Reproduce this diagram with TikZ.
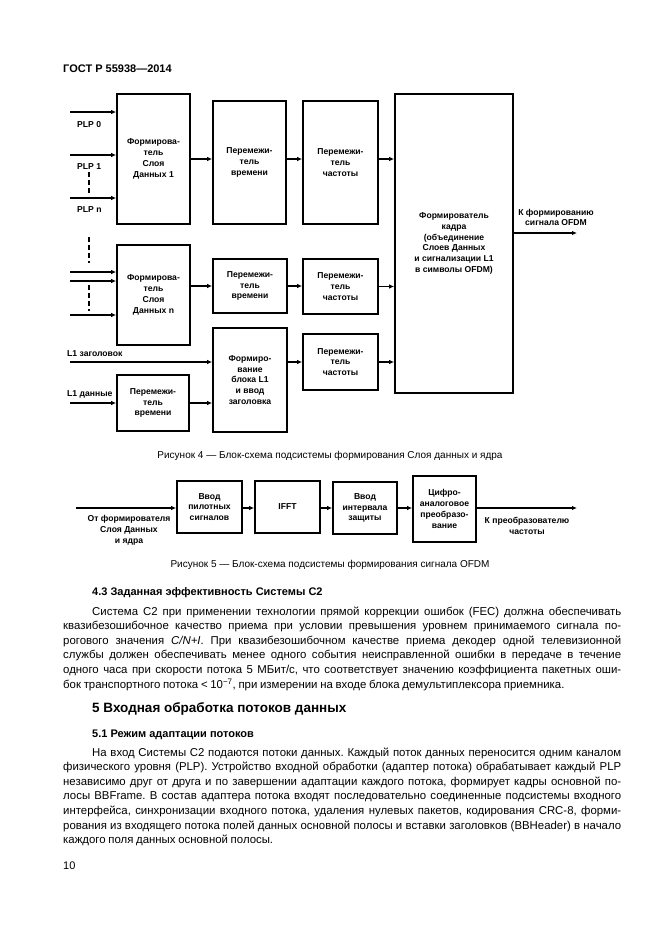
\documentclass[tikz,border=0pt]{standalone}
\usepackage{fontspec}
\setmainfont{Liberation Sans}
\usetikzlibrary{arrows.meta}

\newcommand{\blokfont}{\fontsize{8.6}{10.8}\selectfont\bfseries}
\newcommand{\abzfont}{\fontsize{11.4}{14.6}\selectfont\frenchspacing\spaceskip=2.7pt plus 4pt minus 1.2pt}
\newcommand{\stroka}[1]{\hbox to 558pt{#1}}
\newcommand{\konec}[1]{\hbox to 558pt{#1\hfil}}

\begin{document}
\begin{tikzpicture}[x=1pt,y=-1pt,
  blok/.style={draw,line width=1.7pt,align=center,font=\blokfont,inner sep=0pt},
  sig/.style={draw,line width=1.7pt,-{Latex[length=5pt,width=4.5pt]}},
  vline/.style={draw,line width=1.5pt,dash pattern=on 5pt off 3pt},
  lbl/.style={font=\blokfont,inner sep=0pt,align=center},
  txt/.style={anchor=base west,inner sep=0pt}]

  \fill[white] (0,0) rectangle (661,935);
  \useasboundingbox (0,0) rectangle (661,935);

  \node[txt,font=\fontsize{11}{13}\selectfont\bfseries] (gost) at (63,72) {ГОСТ Р 55938—2014};

  \node[blok,minimum width=73pt,minimum height=130pt] (fsa) at (153.5,159) {Формирова-\\тель\\Слоя\\Данных 1};
  \node[blok,minimum width=73pt,minimum height=123pt] (pva) at (249.5,162.5) {Перемежи-\\тель\\времени};
  \node[blok,minimum width=75pt,minimum height=123pt] (pca) at (340.5,162.5) {Перемежи-\\тель\\частоты};
  \node[blok,minimum width=118pt,minimum height=299pt] (fk) at (454,243.5) {Формирователь\\кадра\\(объединение\\Слоев Данных\\и сигнализации L1\\в символы OFDM)};

  \node[blok,minimum width=73pt,minimum height=100pt] (fsn) at (153.5,295) {Формирова-\\тель\\Слоя\\Данных n};
  \node[blok,minimum width=74pt,minimum height=54pt] (pvn) at (250,286) {Перемежи-\\тель\\времени};
  \node[blok,minimum width=75pt,minimum height=55pt] (pcn) at (340.5,286.5) {Перемежи-\\тель\\частоты};

  \node[blok,minimum width=74pt,minimum height=104pt] (fl1) at (250,380) {Формиро-\\вание\\блока L1\\и ввод\\заголовка};
  \node[blok,minimum width=75pt,minimum height=56pt] (pcl) at (340.5,362) {Перемежи-\\тель\\частоты};
  \node[blok,minimum width=72pt,minimum height=56pt] (pvl) at (153,403) {Перемежи-\\тель\\времени};

  \coordinate (plp0) at (70,112);
  \coordinate (plp1) at (70,155);
  \coordinate (plpn) at (70,198);
  \path[sig] (plp0) -- (plp0 -| fsa.west);
  \path[sig] (plp1) -- (plp1 -| fsa.west);
  \path[sig] (plpn) -- (plpn -| fsa.west);
  \node[lbl,anchor=base west] (lplp0) at (77,127) {PLP 0};
  \node[lbl,anchor=base west] (lplp1) at (77,169) {PLP 1};
  \node[lbl,anchor=base west] (lplpn) at (77,212) {PLP n};
  \path[vline] (89,172) -- (89,195);

  \coordinate (vna) at (70,272);
  \coordinate (vnb) at (70,281);
  \coordinate (vnc) at (70,315);
  \path[sig] (vna) -- (vna -| fsn.west);
  \path[sig] (vnb) -- (vnb -| fsn.west);
  \path[sig] (vnc) -- (vnc -| fsn.west);
  \path[vline] (89,237) -- (89,263);
  \path[vline] (89,285) -- (89,311);

  \path[sig] (fsa.east) -- (fsa.east -| pva.west);
  \path[sig] (fsa.east -| pva.east) -- (fsa.east -| pca.west);
  \path[sig] (fsa.east -| pca.east) -- (fsa.east -| fk.west);

  \path[sig] (fsn.east |- pvn.west) -- (pvn.west);
  \path[sig] (pvn.east) -- (pvn.east -| pcn.west);
  \path[sig] (pcn.east) -- (pcn.east -| fk.west);

  \coordinate (l1z) at (70,362);
  \coordinate (l1d) at (70,403);
  \path[sig] (l1z) -- (l1z -| fl1.west);
  \path[sig] (fl1.east |- pcl.west) -- (pcl.west);
  \path[sig] (pcl.east) -- (pcl.east -| fk.west);
  \path[sig] (l1d) -- (l1d -| pvl.west);
  \path[sig] (pvl.east) -- (pvl.east -| fl1.west);
  \node[lbl,anchor=base west] (ll1z) at (67,356) {L1 заголовок};
  \node[lbl,anchor=base west] (ll1d) at (67,396) {L1 данные};

  \coordinate (vyh4) at (577,233);
  \path[sig] (fk.east |- vyh4) -- (vyh4);
  \node[lbl] (lvyh4) at (556,217.5) {К формированию\\сигнала OFDM};

  \node[anchor=base,inner sep=0pt,font=\fontsize{10}{12}\selectfont] (ris4) at (330,458) {Рисунок 4 — Блок-схема подсистемы формирования Слоя данных и ядра};

  \node[blok,minimum width=65pt,minimum height=52pt] (vp) at (209.5,507) {Ввод\\пилотных\\сигналов};
  \node[blok,minimum width=65pt,minimum height=52pt] (ifft) at (287.5,507) {IFFT};
  \node[blok,minimum width=64pt,minimum height=52pt] (vz) at (365,508) {Ввод\\интервала\\защиты};
  \node[blok,minimum width=63pt,minimum height=66pt] (cap) at (444.5,509) {Цифро-\\аналоговое\\преобразо-\\вание};

  \coordinate (vh5) at (76,508);
  \coordinate (vyh5) at (577,508);
  \path[sig] (vh5) -- (vh5 -| vp.west);
  \path[sig] (vh5 -| vp.east) -- (vh5 -| ifft.west);
  \path[sig] (vh5 -| ifft.east) -- (vh5 -| vz.west);
  \path[sig] (vh5 -| vz.east) -- (vh5 -| cap.west);
  \path[sig] (vh5 -| cap.east) -- (vyh5);
  \node[lbl] (lvh5) at (129,530) {От формирователя\\Слоя Данных\\и ядра};
  \node[lbl] (lvyh5) at (527,525.5) {К преобразователю\\частоты};

  \node[anchor=base,inner sep=0pt,font=\fontsize{10}{12}\selectfont] (ris5) at (330,567) {Рисунок 5 — Блок-схема подсистемы формирования сигнала OFDM};

  \node[txt,font=\fontsize{11}{13}\selectfont\bfseries] (r43) at (92,595) {4.3 Заданная эффективность Системы C2};

  \node[txt] (abz1) at (63,615) {\vtop{\abzfont
  \stroka{\hspace*{29pt}Система C2 при применении технологии прямой коррекции ошибок (FEC) должна обеспечивать}
  \stroka{квазибезошибочное качество приема при условии превышения уровнем принимаемого сигнала по-}
  \stroka{рогового значения \textit{C/N+I}. При квазибезошибочном качестве приема декодер одной телевизионной}
  \stroka{службы должен обеспечивать менее одного события неисправленной ошибки в передаче в течение}
  \stroka{одного часа при скорости потока 5 МБит/с, что соответствует значению коэффициента пакетных оши-}
  \konec{бок транспортного потока < 10\textsuperscript{−7}, при измерении на входе блока демультиплексора приемника.}}};

  \node[txt,font=\fontsize{13.5}{15}\selectfont\bfseries] (r5) at (92,712) {5 Входная обработка потоков данных};
  \node[txt,font=\fontsize{11}{13}\selectfont\bfseries] (r51) at (92,737) {5.1 Режим адаптации потоков};

  \node[txt] (abz2) at (63,756) {\vtop{\abzfont
  \stroka{\hspace*{29pt}На вход Системы C2 подаются потоки данных. Каждый поток данных переносится одним каналом}
  \stroka{физического уровня (PLP). Устройство входной обработки (адаптер потока) обрабатывает каждый PLP}
  \stroka{независимо друг от друга и по завершении адаптации каждого потока, формирует кадры основной по-}
  \stroka{лосы BBFrame. В состав адаптера потока входят последовательно соединенные подсистемы входного}
  \stroka{интерфейса, синхронизации входного потока, удаления нулевых пакетов, кодирования CRC-8, форми-}
  \stroka{рования из входящего потока полей данных основной полосы и вставки заголовков (BBHeader) в начало}
  \konec{каждого поля данных основной полосы.}}};

  \node[txt,font=\fontsize{11}{13}\selectfont] (str) at (63,869) {10};
\end{tikzpicture}
\end{document}
